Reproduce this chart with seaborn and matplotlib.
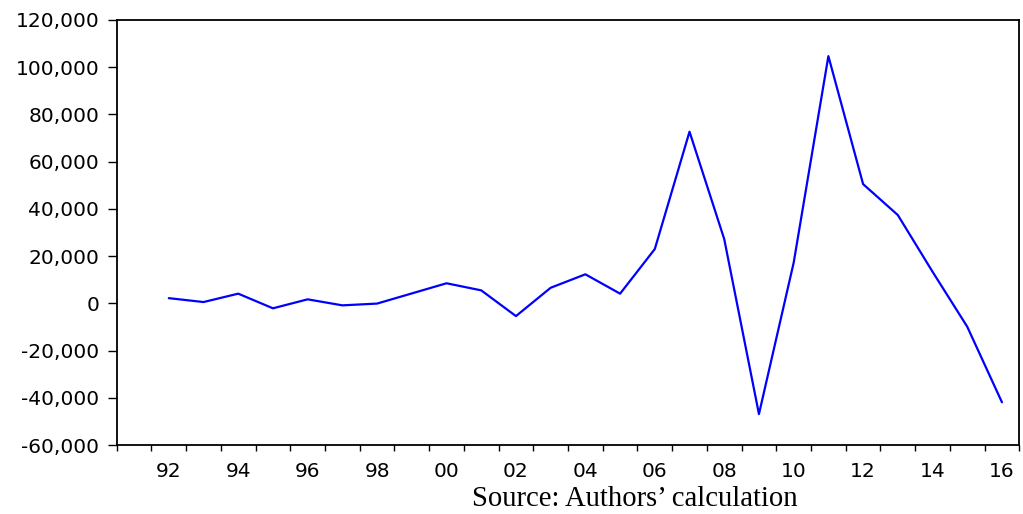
import matplotlib
matplotlib.use("Agg")
import matplotlib.pyplot as plt
import seaborn as sns
import pandas as pd
import numpy as np
from matplotlib.ticker import FuncFormatter, FixedLocator

years = list(range(1992, 2017))
values = [2200, 550, 4100, -2100, 1700, -850, -100, 4200, 8500, 5500,
          -5400, 6600, 12300, 4100, 23000, 72700, 27200, -46900, 17200,
          104700, 50500, 37400, 13400, -9900, -41900]
tick_years = list(range(1992, 2017, 2))
tick_labels = [f"{y % 100:02d}" for y in tick_years]
y_ticks = list(range(-60000, 120001, 20000))
source_text = "Source: Authors\u2019 calculation"

sns.set_style("ticks")
plt.rcParams['font.family'] = ['DejaVu Sans']
plt.rcParams['text.color'] = 'black'
plt.rcParams['xtick.color'] = 'black'
plt.rcParams['ytick.color'] = 'black'
plt.rcParams['xtick.labelcolor'] = 'black'
plt.rcParams['ytick.labelcolor'] = 'black'

df = pd.DataFrame({"x": [y + 0.5 for y in years], "value": values})

fig = plt.figure(figsize=(10.23, 5.14), dpi=100)
ax = fig.add_axes([0.1141, 0.1342, 0.8823, 0.8269])
sns.lineplot(data=df, x="x", y="value", ax=ax, color="#0000FF", linewidth=1.6)

ax.set_xlim(1991, 2017)
ax.set_ylim(-60000, 120000)
ax.set_xlabel("")
ax.set_ylabel("")

ax.xaxis.set_major_locator(FixedLocator(list(range(1991, 2018))))
ax.xaxis.set_major_formatter(FuncFormatter(lambda v, p: ""))
ax.xaxis.set_minor_locator(FixedLocator([y + 0.5 for y in tick_years]))
ax.set_xticklabels(tick_labels, minor=True)
ax.tick_params(axis="x", which="major", length=4.5, width=1.0, direction="out", color="black")
ax.tick_params(axis="x", which="minor", length=0, pad=12, labelsize=14.5, labelcolor="black")

ax.set_yticks(y_ticks)
ax.yaxis.set_major_formatter(FuncFormatter(lambda v, p: f"{v:,.0f}"))
ax.tick_params(axis="y", which="major", length=6.5, width=1.0, direction="out", pad=6,
               labelsize=14.5, labelcolor="black", color="black")

for s in ax.spines.values():
    s.set_visible(True)
    s.set_color("black")
    s.set_linewidth(1.3)

fig.text(0.621, 0.0156, source_text, ha="center", va="baseline",
         fontsize=20.6, family=["Liberation Serif", "DejaVu Serif"], color="black")

fig.savefig("out.png", dpi=100)
